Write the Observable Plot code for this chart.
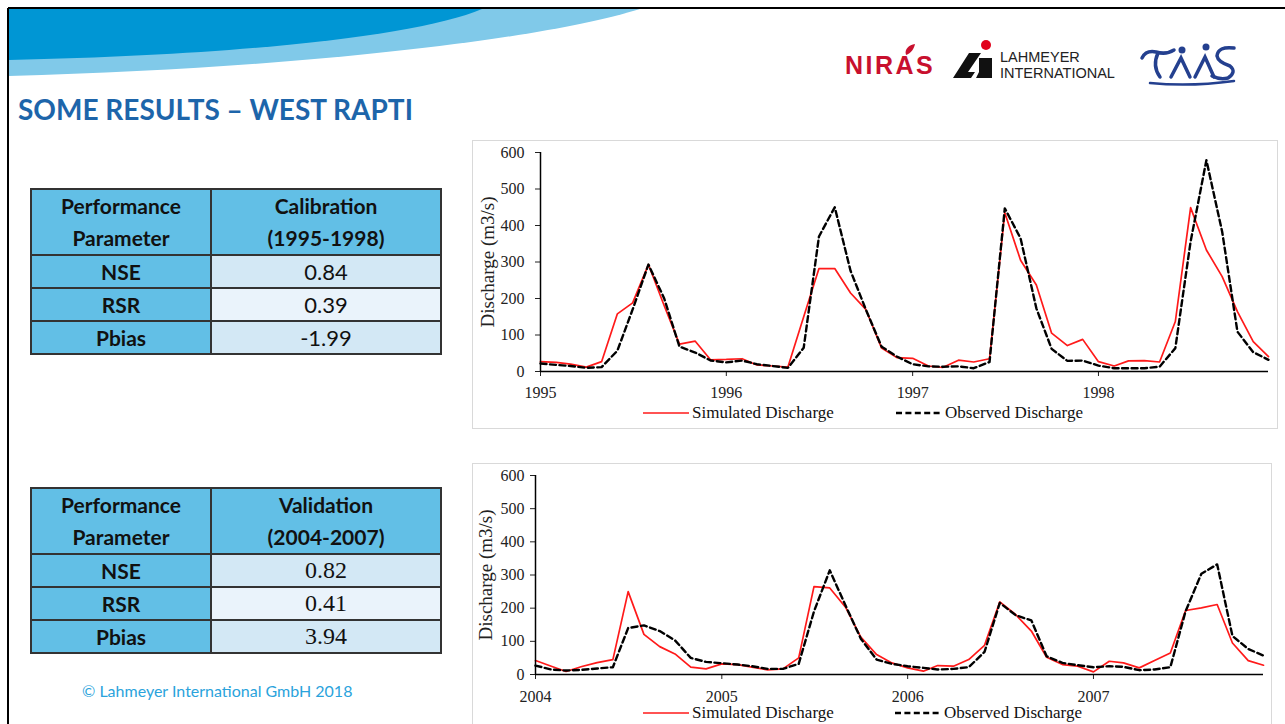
<!DOCTYPE html>
<html>
<head>
<meta charset="utf-8">
<script src="https://cdn.jsdelivr.net/npm/d3@7"></script>
<script src="https://cdn.jsdelivr.net/npm/@observablehq/plot@0.6"></script>
<style>
  html, body { margin: 0; padding: 0; background: #fff; }
  body { width: 1285px; height: 724px; overflow: hidden; position: relative; font-family: Lato, "Open Sans", sans-serif; }
  .abs { position: absolute; }
  .title { left: 18px; top: 92px; font-weight: 700; font-size: 28px; color: #1d65aa; white-space: nowrap; }
  table.perf { position: absolute; left: 30px; width: 410px; border-collapse: collapse; table-layout: fixed; }
  table.perf td { border: 2px solid #333; text-align: center; padding: 0; color: #111; }
  table.perf td.k { background: #62bfe6; font-weight: 700; font-size: 21px; }
  table.perf tr.h td { height: 63px; line-height: 32px; }
  table.perf tr.r td { height: 31px; }
  table.perf td.v1 { background: #d3e8f5; font-size: 22px; }
  table.perf td.v2 { background: #eaf3fb; font-size: 22px; }
  table.perf.serif td.v1, table.perf.serif td.v2 { font-family: "Liberation Serif", serif; font-size: 24px; }
  .copy { left: 82px; top: 681px; font-size: 16px; color: #2aa3dc; white-space: nowrap; }
  .box { position: absolute; border: 1px solid #d9d9d9; box-sizing: border-box; }
  .chart { position: absolute; }
  .leg { position: absolute; font-family: "Liberation Serif", serif; font-size: 17px; color: #111; white-space: nowrap; line-height: 16px; height: 16px; }
  .lah { font-family: "Liberation Sans", Arial, sans-serif; font-size: 14.5px; color: #222; line-height: 16px; }
  .niras { font-family: "Liberation Sans", Arial, sans-serif; font-weight: 700; font-size: 25px; color: #c8102e; letter-spacing: 2.5px; }
</style>
</head>
<body>
<!-- slide frame and banner -->
<svg class="abs" style="left:0;top:0" width="1285" height="724">
  <path d="M9,9 H640 C540,40 300,68 9,76 Z" fill="#80c9e9"/>
  <path d="M9,9 H482 C420,35 250,55 9,60 Z" fill="#0096d4"/>
  <line x1="8" y1="8" x2="1285" y2="8" stroke="#000" stroke-width="2"/>
  <line x1="8" y1="8" x2="8" y2="724" stroke="#000" stroke-width="2"/>
  <!-- Lahmeyer mark -->
  <polygon points="953,78 969,53 981,53 968,72 975,72 971,78" fill="#111"/>
  <polygon points="979,58 992,58 992,78 976,78 979,72" fill="#111"/>
  <circle cx="986" cy="45" r="5" fill="#e1001a"/>
  <!-- NIRAS leaf -->
  <path d="M906,55 C904,49 909,45 915,44 C914,49 911,53 906,55 Z" fill="#c8102e"/>
  <!-- TAAS mark -->
  <g fill="none" stroke="#24408f" stroke-width="3.5" stroke-linecap="round">
    <path d="M1142,58 Q1146,50 1156,52 Q1166,55 1174,50"/>
    <path d="M1158,53 Q1152,66 1160,77"/>
    <path d="M1171,77 L1181,58 L1190,77"/>
    <path d="M1195,77 L1205,57 L1214,77"/>
    <path d="M1234,48 Q1218,46 1217,56 Q1218,62 1230,66 Q1237,72 1228,78 Q1220,80 1212,76"/>
    <path d="M1150,83 Q1190,87 1234,81" stroke-width="2.5"/>
  </g>
  <g fill="#24408f">
    <circle cx="1182" cy="50" r="3.5"/>
    <circle cx="1206" cy="47" r="3.5"/>
  </g>
</svg>
<div class="abs niras" style="left:845px;top:51px;">NIRAS</div>
<div class="abs lah" style="left:1000px;top:49px;">LAHMEYER<br>INTERNATIONAL</div>

<div class="abs title">SOME RESULTS – WEST RAPTI</div>

<div id="tables"></div>
<div class="abs copy">© Lahmeyer International GmbH 2018</div>

<div class="box" style="left:472px;top:140px;width:806px;height:289px;"></div>
<div class="box" style="left:472px;top:463px;width:800px;height:270px;"></div>
<div id="chart1" class="chart" style="left:472px;top:140px;"></div>
<div id="chart2" class="chart" style="left:472px;top:463px;"></div>
<div id="legends"></div>

<script>
// ---------- Data ----------
const yTicks = [0, 100, 200, 300, 400, 500, 600];

const calYears = [1995, 1996, 1997, 1998];
const calSimulated = [
  27, 25, 20, 12, 27, 158, 188, 293, 180, 75, 83, 32,
  33, 35, 18, 15, 12, 150, 282, 282, 215, 170, 64, 38,
  36, 15, 11, 31, 26, 35, 435, 305, 237, 105, 71, 88,
  27, 15, 29, 30, 26, 137, 449, 333, 260, 164, 82, 41
];
const calObserved = [
  22, 18, 15, 10, 12, 57, 170, 293, 200, 68, 52, 30,
  25, 30, 20, 15, 10, 65, 370, 450, 276, 170, 68, 41,
  20, 14, 13, 14, 9, 26, 447, 365, 173, 62, 29, 30,
  16, 9, 9, 9, 13, 64, 356, 579, 383, 109, 53, 32
];

const valYears = [2004, 2005, 2006, 2007];
const valSimulated = [
  42, 25, 9, 24, 36, 45, 250, 121, 84, 62, 22, 17,
  32, 30, 22, 14, 17, 50, 265, 261, 203, 113, 60, 35,
  20, 10, 27, 25, 45, 88, 219, 181, 131, 52, 30, 25,
  8, 40, 35, 20, 42, 65, 193, 201, 211, 95, 42, 28
];
const valObserved = [
  27, 15, 12, 14, 18, 22, 140, 148, 131, 103, 50, 38,
  34, 30, 25, 17, 17, 32, 190, 314, 208, 108, 45, 32,
  25, 20, 15, 17, 22, 68, 216, 179, 163, 55, 35, 28,
  22, 25, 23, 13, 15, 22, 191, 304, 332, 116, 77, 57
];

const perfParams = ["NSE", "RSR", "Pbias"];
const calibrationScores = ["0.84", "0.39", "-1.99"];
const validationScores = ["0.82", "0.41", "3.94"];

const seriesNames = ["Simulated Discharge", "Observed Discharge"];
const yLabel = "Discharge (m3/s)";

// ---------- Tables ----------
function makeTable(top, head, scores, serif) {
  const t = document.createElement("table");
  t.className = "perf" + (serif ? " serif" : "");
  t.style.top = top + "px";
  t.innerHTML = `<colgroup><col style="width:180px"><col style="width:230px"></colgroup>` +
    `<tr class="h"><td class="k">Performance<br>Parameter</td><td class="k">${head[0]}<br>${head[1]}</td></tr>` +
    perfParams.map((p, i) => `<tr class="r"><td class="k">${p}</td><td class="${i === 1 ? "v2" : "v1"}">${scores[i]}</td></tr>`).join("");
  document.getElementById("tables").appendChild(t);
}
makeTable(188, ["Calibration", "(1995-1998)"], calibrationScores, false);
makeTable(487, ["Validation", "(2004-2007)"], validationScores, true);

// ---------- Charts ----------
function chart(el, years, sim, obs, o) {
  const start = new Date(Date.UTC(years[0], 0, 1));
  const months = d3.utcMonth.range(start, d3.utcMonth.offset(start, sim.length));
  const rows = months.map((date, i) => ({date, sim: sim[i], obs: obs[i]}));
  const yearTicks = years.map(y => new Date(Date.UTC(y, 0, 1)));
  const p = Plot.plot({
    width: o.width, height: o.height,
    marginLeft: o.ml, marginRight: o.mr, marginTop: o.mt, marginBottom: o.mb,
    style: {fontFamily: "'Liberation Serif', 'Times New Roman', serif", fontSize: "16px", color: "#222", background: "transparent", overflow: "visible"},
    x: {type: "utc", domain: [months[0], months[months.length - 1]]},
    y: {domain: [0, 600]},
    marks: [
      Plot.axisY({ticks: yTicks, tickSize: 5, tickPadding: o.yPad, label: null}),
      Plot.axisX({ticks: yearTicks, tickFormat: d3.utcFormat("%Y"), tickSize: 5, tickPadding: o.xPad, label: null}),
      Plot.text([yLabel], {frameAnchor: "left", textAnchor: "middle", rotate: -90, dx: o.labelDx, fontSize: 19, fill: "#222"}),
      Plot.line(rows, {x: "date", y: "sim", stroke: "#ff1a1a", strokeWidth: 1.7}),
      Plot.line(rows, {x: "date", y: "obs", stroke: "#000", strokeWidth: 2.4, strokeDasharray: "6,3.5"}),
      Plot.ruleX([months[0]], {stroke: "#000", strokeWidth: 1.5}),
      Plot.ruleY([0], {stroke: "#000", strokeWidth: 1.5})
    ]
  });
  document.getElementById(el).appendChild(p);
}
chart("chart1", calYears, calSimulated, calObserved,
  {width: 805, height: 260, ml: 68, mr: 9, mt: 12, mb: 29, yPad: 11, xPad: 10, labelDx: -53});
chart("chart2", valYears, valSimulated, valObserved,
  {width: 799, height: 255, ml: 63, mr: 8, mt: 12, mb: 44, yPad: 6, xPad: 11, labelDx: -50});

// ---------- Legends ----------
function legend(y, simX, obsX) {
  const wrap = document.getElementById("legends");
  const items = [
    {x: simX, name: seriesNames[0], stroke: "#ff1a1a", w: 1.7, dash: null},
    {x: obsX, name: seriesNames[1], stroke: "#000", w: 2.4, dash: "6,3.4"}
  ];
  items.forEach(it => {
    const d = document.createElement("div");
    d.className = "leg";
    d.style.left = it.x + "px";
    d.style.top = (y - 8) + "px";
    d.innerHTML = `<svg width="46" height="16" style="vertical-align:top"><line x1="0" x2="46" y1="8" y2="8" stroke="${it.stroke}" stroke-width="${it.w}" ${it.dash ? `stroke-dasharray="${it.dash}"` : ""}/></svg><span style="margin-left:3px">${it.name}</span>`;
    wrap.appendChild(d);
  });
}
legend(413, 643, 896);
legend(713, 643, 895);
</script>
</body>
</html>
